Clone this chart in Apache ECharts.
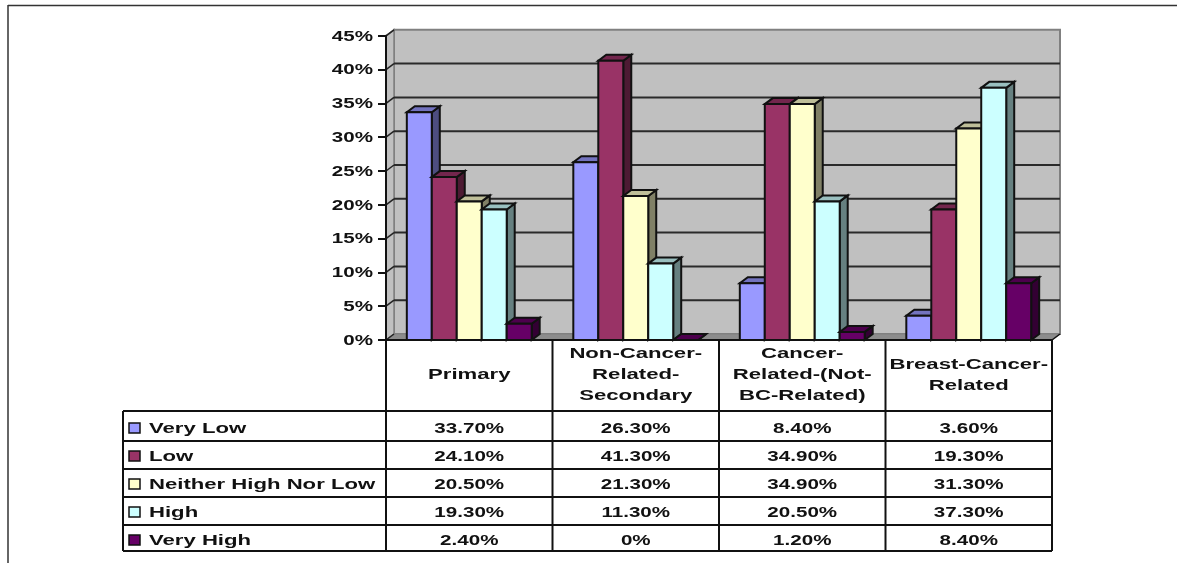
<!DOCTYPE html>
<html>
<head>
<meta charset="utf-8">
<style>html,body{margin:0;padding:0;background:#fff}#chart{width:1177px;height:563px}</style>
<script src="https://cdn.jsdelivr.net/npm/echarts@6/dist/echarts.min.js"></script>
</head>
<body>
<div id="chart"></div>
<script>
// Survey responses by cancer-relatedness of the group, in percent
const categories = ['Primary', 'Non-Cancer-\nRelated-\nSecondary', 'Cancer-\nRelated-(Not-\nBC-Related)', 'Breast-Cancer-\nRelated'];
const seriesNames = ['Very Low', 'Low', 'Neither High Nor Low', 'High', 'Very High'];
const veryLow = [33.7, 26.3, 8.4, 3.6];
const low = [24.1, 41.3, 34.9, 19.3];
const neither = [20.5, 21.3, 34.9, 31.3];
const high = [19.3, 11.3, 20.5, 37.3];
const veryHigh = [2.4, 0, 1.2, 8.4];
const seriesValues = [veryLow, low, neither, high, veryHigh];
const yTicks = [0, 5, 10, 15, 20, 25, 30, 35, 40, 45];

// Face colours of each box: front, top, side
const faces = [
  ['#9999FF', '#7373BF', '#4D4D80'],
  ['#993366', '#73264D', '#4D1A33'],
  ['#FFFFCC', '#BFBF99', '#808066'],
  ['#CCFFFF', '#99BFBF', '#668080'],
  ['#660066', '#4D004D', '#330033']
];

const DX = 8, DY = -6;             // oblique depth of the 3D projection
const INK = '#111';
const TABLE_LEFT = 123;
const HEADER_BOTTOM = 411;
const ROW_BOTTOMS = [441, 469, 497, 525, 551];
const ROW_TEXT_Y = [429, 457, 485, 513, 541];
const FONT = 'bold 14px "Liberation Sans"';
const STRETCH_WORDS = 1.58;
const STRETCH_NUMBERS = 1.47;

function stretchedText(text, x, y, align, stretch) {
  return {
    type: 'text', x: x, y: y, scaleX: stretch, silent: true,
    style: { text: text, x: 0, y: 0, font: FONT, fill: '#111', align: align, verticalAlign: 'middle', lineHeight: 21 }
  };
}
function line(x1, y1, x2, y2, color, width) {
  return { type: 'line', shape: { x1, y1, x2, y2 }, style: { stroke: color, lineWidth: width }, silent: true };
}
function poly(points, fill, stroke, width) {
  return { type: 'polygon', shape: { points }, style: { fill, stroke, lineWidth: width, lineJoin: 'miter' }, silent: true };
}
function percent(v) {
  return v === 0 ? '0%' : v.toFixed(2) + '%';
}

// Back wall, side wall, floor, gridlines on the wall and value labels
function renderWalls(params, api) {
  const band = api.size([1, 0])[0];
  const x0 = api.coord([0, 0])[0] - band / 2;
  const x1 = api.coord([categories.length - 1, 0])[0] + band / 2;
  const yb = api.coord([0, 0])[1];
  const yt = api.coord([0, 45])[1];
  const kids = [
    poly([[x0 + DX, yb + DY], [x1 + DX, yb + DY], [x1 + DX, yt + DY], [x0 + DX, yt + DY]], '#C0C0C0', '#808080', 2),
    poly([[x0, yb], [x0 + DX, yb + DY], [x0 + DX, yt + DY], [x0, yt]], '#C0C0C0', '#808080', 1.5),
    poly([[x0, yb], [x1, yb], [x1 + DX, yb + DY], [x0 + DX, yb + DY]], '#8C8C8C', '#808080', 1)
  ];
  yTicks.forEach(function (t) {
    const y = api.coord([0, t])[1];
    if (t > 0 && t < 45) {
      kids.push(line(x0 + DX, y + DY, x1 + DX, y + DY, '#2a2a2a', 2));
    }
    kids.push(line(x0, y, x0 + DX, y + DY, '#222', 1.5));
    kids.push(stretchedText(t + '%', x0 - 13, y + 1, 'right', STRETCH_NUMBERS));
  });
  kids.push(line(x1, yb, x1 + DX, yb + DY, INK, 1.5));
  return { type: 'group', children: kids };
}

// One oblique box per value: front face, top face, side face
function renderBox(seriesIdx) {
  return function (params, api) {
    const band = api.size([1, 0])[0];
    const w = band * 0.75 / seriesNames.length;
    const cx = api.coord([api.value(0), 0])[0];
    const left = cx - band * 0.375 + seriesIdx * w;
    const right = left + w;
    const base = api.coord([api.value(0), 0])[1];
    const top = api.coord([api.value(0), api.value(1)])[1];
    const c = faces[seriesIdx];
    const kids = [];
    kids.push(poly([[right, base], [right + DX, base + DY], [right + DX, top + DY], [right, top]], c[2], INK, 2));
    kids.push(poly([[left, top], [right, top], [right + DX, top + DY], [left + DX, top + DY]], c[1], INK, 2));
    if (base - top > 0.5) {
      kids.push(poly([[left, base], [right, base], [right, top], [left, top]], c[0], INK, 2));
    }
    return { type: 'group', children: kids };
  };
}

// Data table under the plot, with category header and colour keys
function renderTable(params, api) {
  const band = api.size([1, 0])[0];
  const x0 = api.coord([0, 0])[0] - band / 2;
  const yb = api.coord([0, 0])[1];
  const kids = [];
  const bottom = ROW_BOTTOMS[ROW_BOTTOMS.length - 1];
  for (let i = 0; i <= categories.length; i++) {
    const x = x0 + i * band;
    kids.push(line(x, yb, x, bottom, INK, 2));
  }
  const xEnd = x0 + categories.length * band;
  kids.push(line(TABLE_LEFT, HEADER_BOTTOM, xEnd, HEADER_BOTTOM, INK, 2));
  kids.push(line(TABLE_LEFT, HEADER_BOTTOM, TABLE_LEFT, bottom, INK, 2));
  ROW_BOTTOMS.forEach(function (y) {
    kids.push(line(TABLE_LEFT, y, xEnd, y, INK, 2));
  });
  categories.forEach(function (name, i) {
    kids.push(stretchedText(name, x0 + (i + 0.5) * band, (yb + HEADER_BOTTOM) / 2, 'center', STRETCH_WORDS));
  });
  seriesNames.forEach(function (name, r) {
    const y = ROW_TEXT_Y[r];
    kids.push({
      type: 'rect', shape: { x: TABLE_LEFT + 6, y: y - 6, width: 11, height: 10 },
      style: { fill: faces[r][0], stroke: INK, lineWidth: 1.5 }, silent: true
    });
    kids.push(stretchedText(name, TABLE_LEFT + 26, y, 'left', STRETCH_WORDS));
    seriesValues[r].forEach(function (v, i) {
      kids.push(stretchedText(percent(v), x0 + (i + 0.5) * band, y, 'center', STRETCH_NUMBERS));
    });
  });
  return { type: 'group', children: kids };
}

const series = [
  { type: 'custom', name: 'walls', renderItem: renderWalls, data: [[0, 0]], clip: false, z: 1, silent: true }
];
seriesNames.forEach(function (name, s) {
  series.push({
    type: 'custom', name: name, renderItem: renderBox(s), clip: false, z: 2 + s, silent: true,
    encode: { x: 0, y: 1 },
    data: seriesValues[s].map(function (v, i) { return [i, v]; })
  });
});
series.push({ type: 'custom', name: 'table', renderItem: renderTable, data: [[0, 0]], clip: false, z: 10, silent: true });

const chart = echarts.init(document.getElementById('chart'), null, { renderer: 'canvas' });
chart.setOption({
  animation: false,
  backgroundColor: '#fff',
  grid: { left: 386, right: 125, top: 35.8, bottom: 223, containLabel: false },
  xAxis: {
    type: 'category', data: categories, z: 8,
    axisLine: { show: true, lineStyle: { color: INK, width: 2 } },
    axisTick: { show: false }, axisLabel: { show: false }, splitLine: { show: false }
  },
  yAxis: {
    type: 'value', min: 0, max: 45, interval: 5, z: 8,
    axisLine: { show: true, lineStyle: { color: INK, width: 2 } },
    axisTick: { show: true, length: 8, lineStyle: { color: INK, width: 2 } },
    axisLabel: { show: false }, splitLine: { show: false }
  },
  graphic: [
    // Page frame running off the right and bottom edges
    { type: 'line', shape: { x1: 8, y1: 5.5, x2: 1177, y2: 5.5 }, style: { stroke: '#333', lineWidth: 1.5 }, silent: true },
    { type: 'line', shape: { x1: 8, y1: 5, x2: 8, y2: 563 }, style: { stroke: '#333', lineWidth: 1.5 }, silent: true }
  ],
  series: series
});
</script>
</body>
</html>
